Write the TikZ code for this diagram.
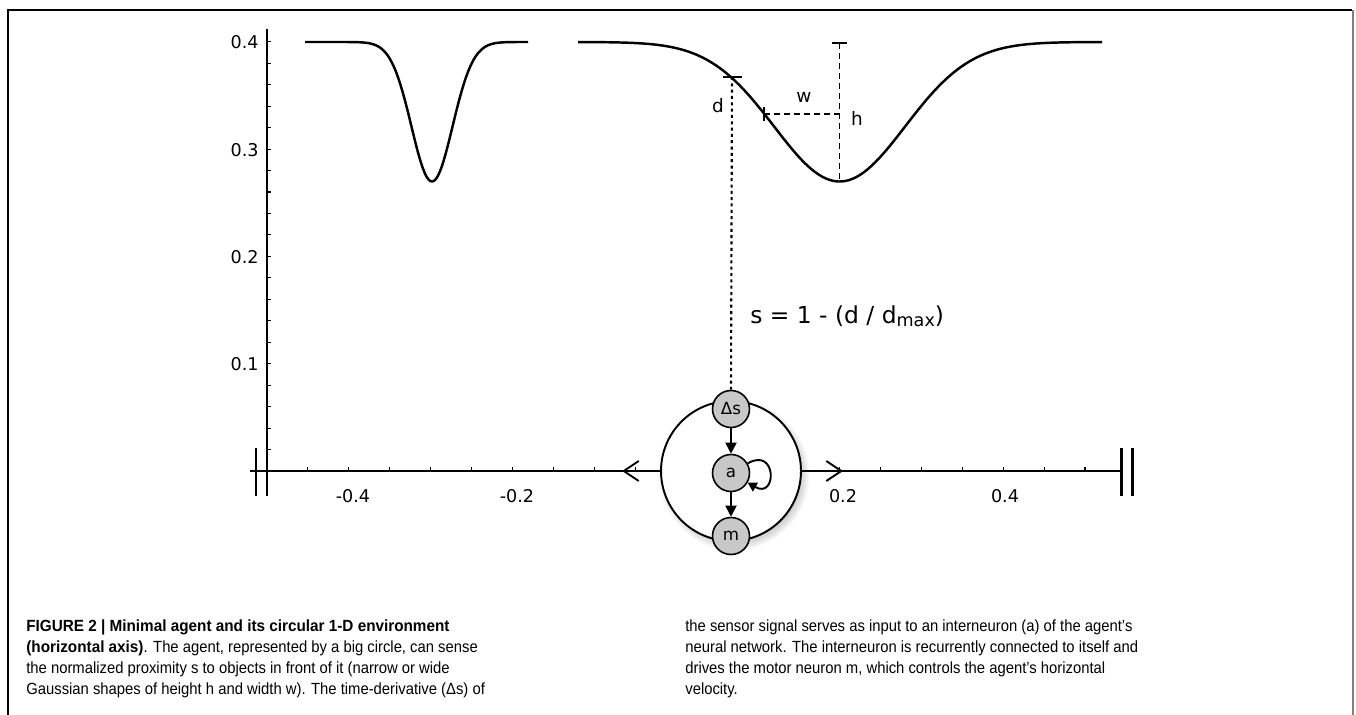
\documentclass[tikz,border=0pt]{standalone}
\usepackage{fontspec}
\setmainfont{DejaVu Sans}
\newfontfamily\capfont[FakeStretch=0.917]{Liberation Sans}
\newfontfamily\capbold[FakeStretch=0.946]{Liberation Sans}
\usetikzlibrary{arrows.meta,shadows,fadings}
\definecolor{cellgray}{HTML}{C8C8C8}
\definecolor{framegray}{HTML}{808080}
\newcommand{\capbf}[1]{{\capbold\bfseries #1}}

\begin{document}
\begin{tikzpicture}[x=0.02cm,y=0.02cm,
 gauss/.style={line width=1.4pt},
 axisline/.style={line width=0.6pt},
 breakbar/.style={line width=1.7pt},
 ticklabel/.style={font=\fontsize{10}{12}\selectfont,inner sep=0pt},
 marker/.style={line width=1.6pt},
 guide/.style={line width=1pt,dash pattern=on 3.4pt off 2.3pt},
 probe/.style={line width=1.2pt,dash pattern=on 1.7pt off 1.9pt},
 annot/.style={font=\fontsize{10.5}{12}\selectfont,inner sep=0pt},
 body/.style={circle,draw,line width=1.1pt,fill=white,minimum size=2.8cm,inner sep=0pt,
   circular drop shadow={shadow xshift=1.5pt,shadow yshift=-2pt,shadow scale=1.08,opacity=.45}},
 neuron/.style={circle,draw,line width=0.9pt,fill=cellgray,minimum size=0.74cm,inner sep=0pt,
   font=\fontsize{9.5}{11}\selectfont},
 synapse/.style={line width=1.1pt,-{Triangle[length=2.2mm,width=2.2mm]}},
 motion/.style={line width=1.1pt,-{Straight Barb[length=3mm,width=4mm]}},
 caption/.style={font=\capfont\fontsize{9.2}{12}\selectfont,inner sep=0pt,anchor=base west}
]
\useasboundingbox (0,0) rectangle (1356,-715);

% frame
\draw[line width=0.6pt] (8,-715) -- (8,-10) -- (1352,-10);
\draw[framegray,line width=1.6pt] (1353,-10) -- (1353,-715);

% axes
\draw[axisline] (267,-29) -- (267,-471);
\draw[axisline] (250,-471) -- (1121,-471);
\foreach \k in {1,...,20}
  \draw[axisline] (267,{-471+21.46*\k}) -- ++(3.5,0);
\foreach \k in {1,...,20}
  \draw[axisline] ({267+40.9*\k},-471) -- ++(0,3.5);
\foreach \v/\y in {0.4/42,0.3/150,0.2/257,0.1/364}
  \node[ticklabel,anchor=east] (ylab\y) at (259,-\y) {\v};
\foreach \v/\x in {-0.4/353,-0.2/517,0.2/843,0.4/1005}
  \node[ticklabel] (xlab\x) at (\x,-496) {\v};
\draw[breakbar] (256,-448) -- (256,-496);
\draw[breakbar] (267,-448) -- (267,-496);
\draw[breakbar] (1121,-448) -- (1121,-496);
\draw[breakbar] (1132,-448) -- (1132,-496);

% narrow and wide objects
\draw[gauss] plot[domain=305:528,samples=120]
  (\x,{-(42+139.5*exp(-0.5*((\x-432)/20.5)^2))});
\draw[gauss] plot[domain=578:1102,samples=160]
  (\x,{-(42+139.5*exp(-0.5*((\x-839.6)/65.4)^2))});

% d, w, h
\coordinate (dtop) at (732,-77);
\coordinate (wleft) at (764,-114);
\coordinate (hmid) at (839.6,-114);
\coordinate (htop) at (839.6,-43);
\coordinate (hbot) at (839.6,-181.5);
\draw[marker] (723,-77) -- (742,-77);
\draw[marker] (764,-107) -- (764,-121);
\draw[marker] (832,-43) -- (847,-43);
\draw[guide] (htop) -- (hbot);
\draw[guide] (wleft) -- (hmid);
\node[annot] (dlab) at (718,-106) {d};
\node[annot] (wlab) at (804,-97) {w};
\node[annot] (hlab) at (857,-118) {h};
\node[anchor=west,inner sep=0pt,font=\fontsize{13.3}{15}\selectfont] (sform) at (750,-316)
  {s = 1 - (d / d\raisebox{-.25ex}{\fontsize{10}{11}\selectfont max})};

% agent
\node[body] (agent) at (731,-471) {};
\coordinate (lefttip) at (622,-471);
\coordinate (righttip) at (843,-471);
\draw[motion] (agent.west) -- (lefttip);
\draw[motion] (agent.east) -- (righttip);
\node[neuron] (ds) at (731,-409) {Δs};
\node[neuron] (a) at (731,-473) {a};
\node[neuron] (m) at (731,-536) {m};
\draw[probe] (dtop) -- (ds.north);
\draw[synapse] (ds) -- (a);
\draw[synapse] (a) -- (m);
\draw[line width=1.1pt,-{Triangle[length=1.8mm,width=2mm]}]
  (a.30) .. controls +(30:34) and +(-30:34) .. (a.-30);

% caption
\node[caption] (capl1) at (26,-632) {\capbf{FIGURE 2 | Minimal agent and its circular 1-D environment}};
\node[caption] (capl2) at (26,-653) {\capbf{(horizontal axis)}. The agent, represented by a big circle, can sense};
\node[caption] (capl3) at (26,-674) {the normalized proximity s to objects in front of it (narrow or wide};
\node[caption] (capl4) at (26,-695) {Gaussian shapes of height h and width w). The time-derivative (Δs) of};
\node[caption] (capr1) at (685,-632) {the sensor signal serves as input to an interneuron (a) of the agent’s};
\node[caption] (capr2) at (685,-653) {neural network. The interneuron is recurrently connected to itself and};
\node[caption] (capr3) at (685,-674) {drives the motor neuron m, which controls the agent’s horizontal};
\node[caption] (capr4) at (685,-695) {velocity.};
\end{tikzpicture}
\end{document}
